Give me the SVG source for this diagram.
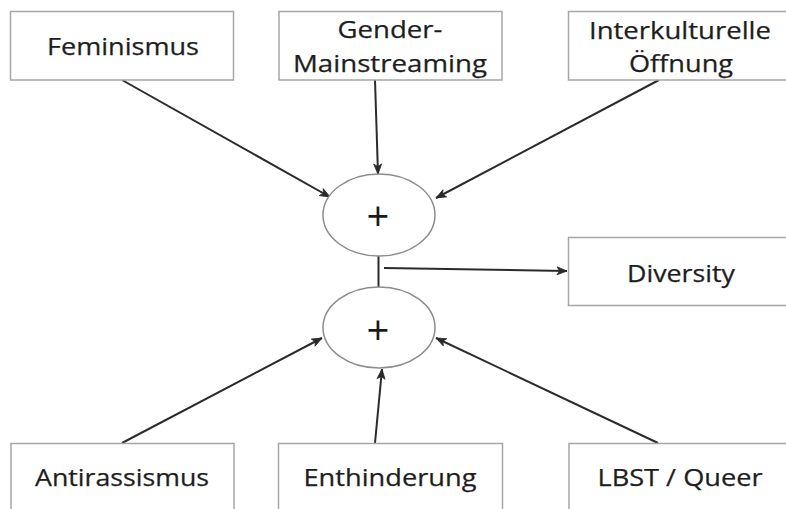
<svg xmlns="http://www.w3.org/2000/svg" width="786" height="509" viewBox="0 0 786 509">
<style>
.box{fill:#fff;stroke:#a6a6a6;stroke-width:1.5}
.ell{fill:#fff;stroke:#8c8c8c;stroke-width:1.5}
.lbl{font-family:"Open Sans","Liberation Sans",sans-serif;font-size:23.5px;fill:#1e1e1e;stroke:#1e1e1e;stroke-width:0.25;text-anchor:middle}
.plus{font-family:"Open Sans","Liberation Sans",sans-serif;font-size:40px;fill:#1a1a1a;text-anchor:middle}
.con{stroke:#2b2b2b;stroke-width:2;fill:none}
</style>
<defs>
<marker id="ah" markerWidth="12" markerHeight="10" refX="11" refY="5" orient="auto" markerUnits="userSpaceOnUse">
<path d="M1,1 L11,5 L1,9 L3.5,5 Z" fill="#2b2b2b" stroke="#2b2b2b" stroke-width="0.8" stroke-linejoin="round"/>
</marker>
</defs>
<rect width="786" height="509" fill="#fff"/>
<g id="connectors">
<line class="con" x1="122" y1="80" x2="330" y2="197" marker-end="url(#ah)"/>
<line class="con" x1="375" y1="80" x2="378" y2="174" marker-end="url(#ah)"/>
<line class="con" x1="659" y1="80" x2="436" y2="198" marker-end="url(#ah)"/>
<line class="con" x1="122" y1="443" x2="322" y2="338" marker-end="url(#ah)"/>
<line class="con" x1="375" y1="443" x2="382" y2="369" marker-end="url(#ah)"/>
<line class="con" x1="658" y1="443" x2="436" y2="338" marker-end="url(#ah)"/>
<line class="con" x1="378.5" y1="256" x2="378.5" y2="287"/>
<line class="con" x1="384" y1="268" x2="567" y2="271" marker-end="url(#ah)"/>
</g>
<g id="feminismus">
<rect class="box" x="10.5" y="11.5" width="223" height="68.5"/>
<text class="lbl" x="123" y="55" textLength="152" lengthAdjust="spacingAndGlyphs">Feminismus</text>
</g>
<g id="gender-mainstreaming">
<rect class="box" x="279" y="11.5" width="223" height="68.5"/>
<text class="lbl" x="390" y="38" textLength="105" lengthAdjust="spacingAndGlyphs">Gender-</text>
<text class="lbl" x="390" y="72" textLength="194" lengthAdjust="spacingAndGlyphs">Mainstreaming</text>
</g>
<g id="interkulturelle-oeffnung">
<rect class="box" x="568.5" y="11.5" width="224" height="68.5"/>
<text class="lbl" x="680" y="39" textLength="182" lengthAdjust="spacingAndGlyphs">Interkulturelle</text>
<text class="lbl" x="681" y="72" textLength="104" lengthAdjust="spacingAndGlyphs">Öffnung</text>
</g>
<g id="plus-top">
<ellipse class="ell" cx="379" cy="215" rx="56" ry="41"/>
<text class="plus" x="378" y="231">+</text>
</g>
<g id="plus-bottom">
<ellipse class="ell" cx="379" cy="327.5" rx="56" ry="40.5"/>
<text class="plus" x="378" y="345">+</text>
</g>
<g id="diversity">
<rect class="box" x="568.5" y="237.5" width="224" height="68"/>
<text class="lbl" x="681" y="282" textLength="108" lengthAdjust="spacingAndGlyphs">Diversity</text>
</g>
<g id="antirassismus">
<rect class="box" x="11" y="443.5" width="223" height="75"/>
<text class="lbl" x="122" y="486" textLength="174" lengthAdjust="spacingAndGlyphs">Antirassismus</text>
</g>
<g id="enthinderung">
<rect class="box" x="278.5" y="443.5" width="224" height="75"/>
<text class="lbl" x="390" y="486" textLength="173" lengthAdjust="spacingAndGlyphs">Enthinderung</text>
</g>
<g id="lbst-queer">
<rect class="box" x="569" y="443.5" width="224" height="75"/>
<text class="lbl" x="680" y="486" textLength="165" lengthAdjust="spacingAndGlyphs">LBST / Queer</text>
</g>
</svg>
